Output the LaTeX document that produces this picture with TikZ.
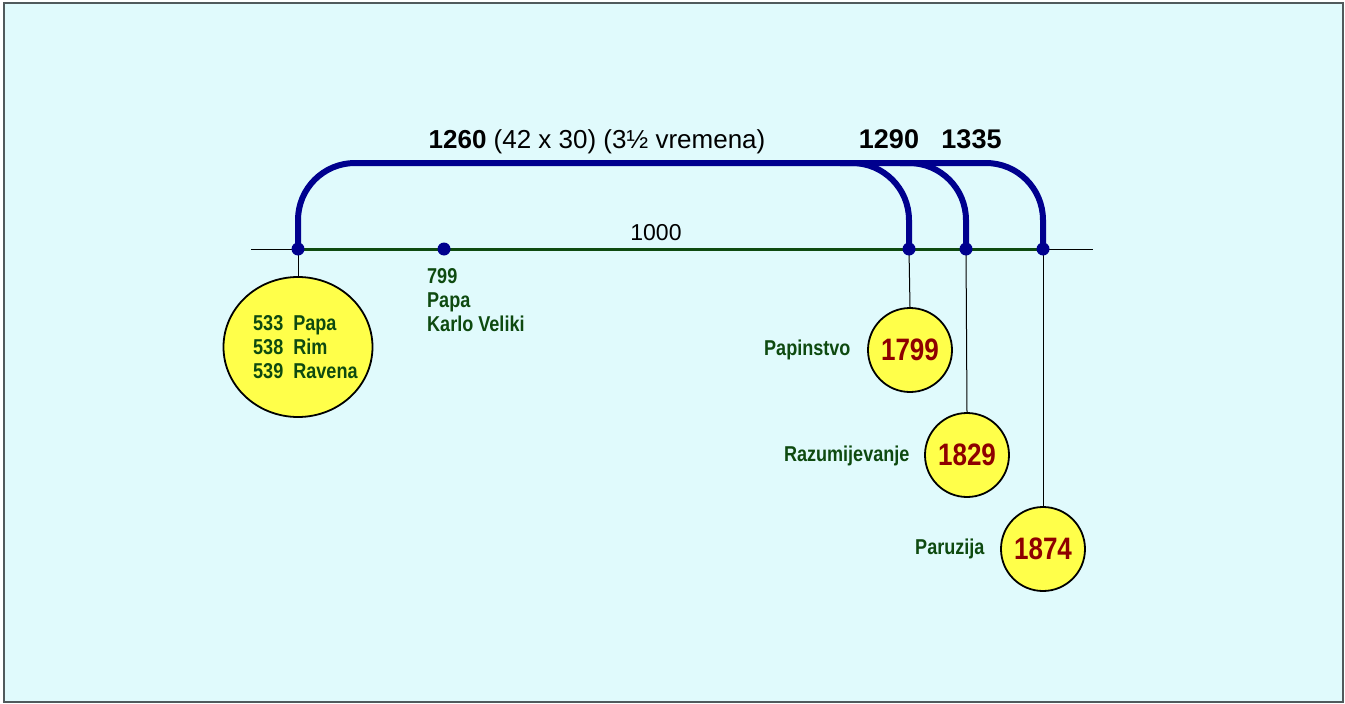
\documentclass[tikz,border=0pt]{standalone}
\usepackage{fontspec}
\usetikzlibrary{shapes.geometric}
\setmainfont{Liberation Sans}
\newfontfamily\narfont[FakeStretch=0.84]{Liberation Sans}
\begin{document}
\begin{tikzpicture}[x=1pt,y=-1pt,
  bg/.style={fill=bgcol,draw=framecol,line width=1.2pt},
  arcline/.style={draw=navy,line width=6pt,rounded corners=57pt},
  axis/.style={draw=black,line width=1pt},
  greenline/.style={draw=dgreen,line width=3pt},
  dot/.style={circle,fill=navy,inner sep=0pt,minimum size=13pt},
  hang/.style={draw=black,line width=1pt},
  yearball/.style={circle,draw=black,line width=1.8pt,fill=ballyellow,minimum size=84pt,inner sep=0pt,
     font=\narfont\bfseries\fontsize{31}{31}\selectfont,text=darkred},
  bigoval/.style={ellipse,draw=black,line width=1.8pt,fill=ballyellow,minimum width=149pt,minimum height=140pt},
  greentext/.style={font=\narfont\bfseries\fontsize{21.5}{24}\selectfont,text=dgreen},
  toptext/.style={font=\fontsize{26}{26}\selectfont,anchor=base}
]
\definecolor{bgcol}{HTML}{E0FAFC}
\definecolor{framecol}{HTML}{505A5C}
\definecolor{navy}{HTML}{00008E}
\definecolor{dgreen}{HTML}{0E4A10}
\definecolor{ballyellow}{HTML}{FFFF4A}
\definecolor{darkred}{HTML}{8E0000}
\useasboundingbox (0,0) rectangle (1345,704);
\path[bg] (4,3) rectangle (1343,702);
% points on the axis
\coordinate (p1) at (298,249);
\coordinate (p2) at (444,249);
\coordinate (p3) at (909,249);
\coordinate (p4) at (966,249);
\coordinate (p5) at (1043,249);
\coordinate (axL) at (251,249);
\coordinate (axR) at (1093,249);
% oval and balls
\node[bigoval] (oval) at (298,347) {};
\node[yearball] (y1799) at (910,350) {1799};
\node[yearball] (y1829) at (967,455) {1829};
\node[yearball] (y1874) at (1043,549) {1874};
\draw[hang] (p1) -- (oval.north);
\draw[hang] (p3) -- (y1799.north);
\draw[hang] (p4) -- (y1829.north);
\draw[hang] (p5) -- (y1874.north);
% axis
\draw[axis] (axL) -- (axR);
\draw[greenline] (p1) -- (p5);
% blue arcs
\coordinate (t4) at (840,163);
\coordinate (t5) at (900,163);
\draw[arcline] (p1) -- (298,163) -- (909,163) -- (p3);
\draw[arcline] (t4) -- (966,163) -- (p4);
\draw[arcline] (t5) -- (1043,163) -- (p5);
\node[dot] (d1) at (p1) {};
\node[dot] (d2) at (p2) {};
\node[dot] (d3) at (p3) {};
\node[dot] (d4) at (p4) {};
\node[dot] (d5) at (p5) {};
% top labels
\node[toptext] (l1260) at (597,148) {\textbf{1260} (42 x 30) (3½ vremena)};
\node[toptext,font=\fontsize{27}{27}\selectfont] (l1290) at (889,148) {\textbf{1290}};
\node[toptext,font=\fontsize{27}{27}\selectfont] (l1335) at (971.5,148) {\textbf{1335}};
\node[font=\fontsize{23}{23}\selectfont,anchor=base] (l1000) at (656,240) {1000};
% texts
\node[greentext,align=left,anchor=west,inner sep=0pt] (ovaltext) at (253,347) {533\ \ Papa\\538\ \ Rim\\539\ \ Ravena};
\node[greentext,align=left,anchor=north west,inner sep=0pt] (k799) at (427,268) {799\\Papa\\Karlo Veliki};
\node[greentext,anchor=east] (lp) at (854,350) {Papinstvo};
\node[greentext,anchor=east] (lr) at (913,456) {Razumijevanje};
\node[greentext,anchor=east] (lz) at (988,549) {Paruzija};
\end{tikzpicture}
\end{document}
